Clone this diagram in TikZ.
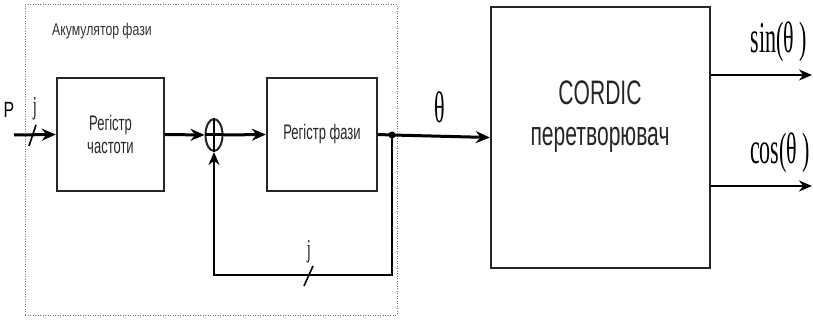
\documentclass[tikz,border=0pt]{standalone}
\usepackage{fontspec}
\setmainfont{Liberation Sans}
\newfontfamily\nsans[FakeStretch=0.62]{Liberation Sans}
\newfontfamily\tsans[FakeStretch=0.72]{Liberation Sans}
\newfontfamily\nserif[FakeStretch=0.5]{Liberation Serif}
\usetikzlibrary{arrows.meta,shapes.geometric}
\begin{document}
\begin{tikzpicture}[x=1pt,y=-1pt,
  blk/.style={draw=black!85,line width=2.4pt,inner sep=0pt,align=center,
    font=\nsans\fontsize{21}{23}\selectfont,text=black!85},
  sig/.style={line width=3pt,-{Stealth[length=14pt,width=12pt]}},
  thin/.style={line width=2.4pt,-{Stealth[length=13pt,width=11pt]}},
  lbl/.style={inner sep=0pt,font=\nserif\fontsize{44}{46}\selectfont},
  small/.style={inner sep=0pt,font=\nserif\fontsize{26}{28}\selectfont},
  frame/.style={draw=black!55,line width=1pt,dash pattern=on 1pt off 1.5pt}
]
\useasboundingbox (0,0) rectangle (813,320);
% accumulator frame
\node[frame,inner sep=0pt,minimum width=372pt,minimum height=310pt] (acc) at (211,160) {};
\node[anchor=west,inner sep=0pt,font=\tsans\fontsize{17}{19}\selectfont,text=black!80] (acct) at (52,31) {Акумулятор фази};
% blocks
\node[blk,minimum width=107pt,minimum height=113pt] (reg1) at (110.5,134.5) {Регістр\\частоти};
\node[blk,minimum width=110pt,minimum height=113pt] (reg2) at (322,134.5) {Регістр фази};
\node[blk,minimum width=219pt,minimum height=261pt] (cordic) at (600.5,137.5) {};
\node[inner sep=0pt,align=center,font=\nsans\fontsize{34}{41}\selectfont,text=black!85] (cordt) at (600,117) {CORDIC\\перетворювач};
\node[draw=black!85,ellipse,line width=2pt,inner sep=0pt,minimum width=17pt,minimum height=32pt] (sum) at (214,135) {};
\draw[line width=1.6pt] (sum.north) -- (sum.south);
% input
\coordinate (in) at (14,135);
\node[inner sep=0pt,font=\tsans\fontsize{22}{24}\selectfont] (p) at (9,110) {P};
\node[small] (j1) at (35,109) {j};
\draw[line width=1.6pt] (29,146) -- (36,125);
\draw[sig] (in) -- (reg1.west);
% chain
\draw[sig] (reg1.east) -- (sum.west);
\draw[line width=3pt] (sum.west) -- (sum.east);
\draw[sig] (sum.east) -- (reg2.west);
\coordinate (junc) at (392,135);
\draw[sig] (reg2.east) -- (junc) -- (cordic.west);
\fill (junc) circle (3.5pt);
\node[lbl] (theta) at (440,107) {θ};
% feedback
\coordinate (fb) at (214,275);
\draw[thin] (junc) |- (fb) -- (sum.south);
\node[small] (j2) at (309,252) {j};
\draw[line width=1.6pt] (304,286) -- (313,266);
% outputs
\coordinate (sinend) at (812,75);
\coordinate (cosend) at (812,186);
\draw[thin] (cordic.east |- sinend) -- (sinend);
\draw[thin] (cordic.east |- cosend) -- (cosend);
\node[lbl] (sinl) at (779,42) {sin(θ )};
\node[lbl] (cosl) at (780,153) {cos(θ )};
\end{tikzpicture}
\end{document}
